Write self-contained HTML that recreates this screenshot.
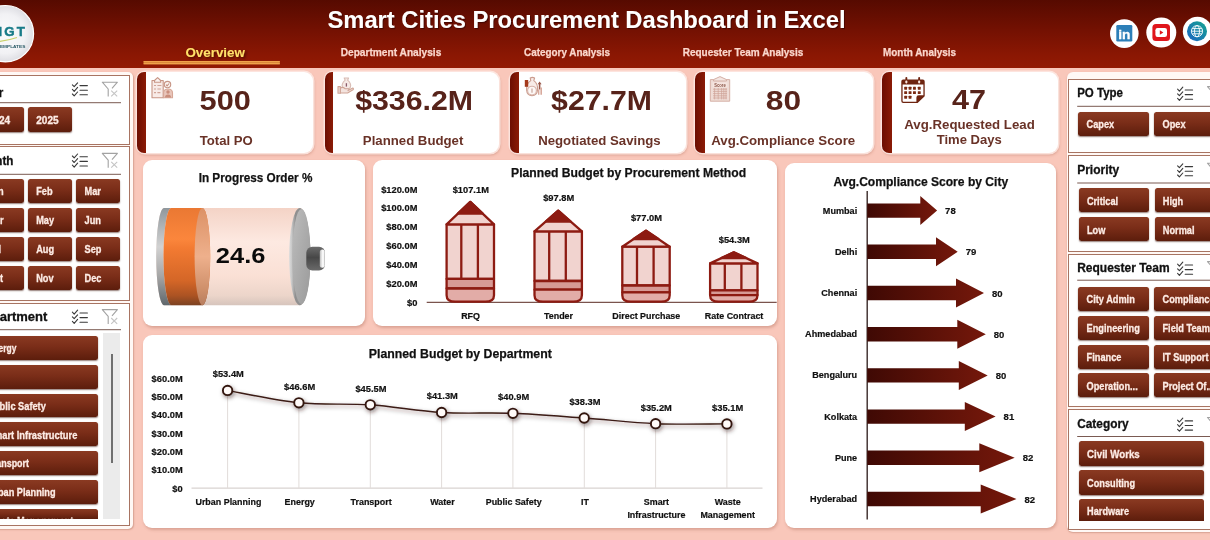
<!DOCTYPE html>
<html><head><meta charset="utf-8"><title>Smart Cities Procurement Dashboard in Excel</title>
<style>
html,body{margin:0;padding:0}
body{width:1210px;height:540px;overflow:hidden;background:#f9c7ba;position:relative;font-family:"Liberation Sans", sans-serif}
#stage{position:absolute;left:0;top:0;width:1210px;height:540px;overflow:hidden}
#stage>div{position:absolute}
svg{position:absolute;left:0;top:0;font-family:"Liberation Sans", sans-serif}
</style></head><body><div id="stage">
<div style="left:0.0px;top:0.0px;width:1210.0px;height:67.5px;background:linear-gradient(#560a00 0%,#741102 45%,#8a1703 80%,#931a03 100%);"></div>
<div style="left:-10.0px;top:72.2px;width:142.9px;height:457.2px;background:#fff8f5;border-radius:5px;box-shadow:.5px 1px 1.5px rgba(150,90,70,.35);"></div>
<div style="left:1067.4px;top:72.4px;width:162.6px;height:459.6px;background:#fff8f5;border-radius:6px;box-shadow:.5px 1px 1.5px rgba(150,90,70,.35);"></div>
<div style="left:-30.0px;top:75.0px;width:159.8px;height:69.6px;background:#fff;border:1px solid #a87462;box-sizing:border-box;"></div>
<div style="left:-20.5px;top:107.2px;width:44.0px;height:24.5px;background:linear-gradient(#8a3a22 0%,#7a2d18 45%,#5c1d0c 100%);border-radius:2.5px;box-shadow:0 1px 1.5px rgba(60,20,10,.55);"></div>
<div style="left:27.9px;top:107.2px;width:44.0px;height:24.5px;background:linear-gradient(#8a3a22 0%,#7a2d18 45%,#5c1d0c 100%);border-radius:2.5px;box-shadow:0 1px 1.5px rgba(60,20,10,.55);"></div>
<div style="left:-30.0px;top:146.4px;width:159.8px;height:154.2px;background:#fff;border:1px solid #a87462;box-sizing:border-box;"></div>
<div style="left:-20.5px;top:178.9px;width:44.0px;height:24.0px;background:linear-gradient(#8a3a22 0%,#7a2d18 45%,#5c1d0c 100%);border-radius:2.5px;box-shadow:0 1px 1.5px rgba(60,20,10,.55);"></div>
<div style="left:27.9px;top:178.9px;width:44.0px;height:24.0px;background:linear-gradient(#8a3a22 0%,#7a2d18 45%,#5c1d0c 100%);border-radius:2.5px;box-shadow:0 1px 1.5px rgba(60,20,10,.55);"></div>
<div style="left:76.2px;top:178.9px;width:44.0px;height:24.0px;background:linear-gradient(#8a3a22 0%,#7a2d18 45%,#5c1d0c 100%);border-radius:2.5px;box-shadow:0 1px 1.5px rgba(60,20,10,.55);"></div>
<div style="left:-20.5px;top:207.9px;width:44.0px;height:24.0px;background:linear-gradient(#8a3a22 0%,#7a2d18 45%,#5c1d0c 100%);border-radius:2.5px;box-shadow:0 1px 1.5px rgba(60,20,10,.55);"></div>
<div style="left:27.9px;top:207.9px;width:44.0px;height:24.0px;background:linear-gradient(#8a3a22 0%,#7a2d18 45%,#5c1d0c 100%);border-radius:2.5px;box-shadow:0 1px 1.5px rgba(60,20,10,.55);"></div>
<div style="left:76.2px;top:207.9px;width:44.0px;height:24.0px;background:linear-gradient(#8a3a22 0%,#7a2d18 45%,#5c1d0c 100%);border-radius:2.5px;box-shadow:0 1px 1.5px rgba(60,20,10,.55);"></div>
<div style="left:-20.5px;top:236.9px;width:44.0px;height:24.0px;background:linear-gradient(#8a3a22 0%,#7a2d18 45%,#5c1d0c 100%);border-radius:2.5px;box-shadow:0 1px 1.5px rgba(60,20,10,.55);"></div>
<div style="left:27.9px;top:236.9px;width:44.0px;height:24.0px;background:linear-gradient(#8a3a22 0%,#7a2d18 45%,#5c1d0c 100%);border-radius:2.5px;box-shadow:0 1px 1.5px rgba(60,20,10,.55);"></div>
<div style="left:76.2px;top:236.9px;width:44.0px;height:24.0px;background:linear-gradient(#8a3a22 0%,#7a2d18 45%,#5c1d0c 100%);border-radius:2.5px;box-shadow:0 1px 1.5px rgba(60,20,10,.55);"></div>
<div style="left:-20.5px;top:265.9px;width:44.0px;height:24.0px;background:linear-gradient(#8a3a22 0%,#7a2d18 45%,#5c1d0c 100%);border-radius:2.5px;box-shadow:0 1px 1.5px rgba(60,20,10,.55);"></div>
<div style="left:27.9px;top:265.9px;width:44.0px;height:24.0px;background:linear-gradient(#8a3a22 0%,#7a2d18 45%,#5c1d0c 100%);border-radius:2.5px;box-shadow:0 1px 1.5px rgba(60,20,10,.55);"></div>
<div style="left:76.2px;top:265.9px;width:44.0px;height:24.0px;background:linear-gradient(#8a3a22 0%,#7a2d18 45%,#5c1d0c 100%);border-radius:2.5px;box-shadow:0 1px 1.5px rgba(60,20,10,.55);"></div>
<div style="left:-30.0px;top:302.6px;width:159.8px;height:223.8px;background:#fff;border:1px solid #a87462;box-sizing:border-box;"></div>
<div style="left:102.8px;top:333.0px;width:17.6px;height:185.7px;background:#ebebeb;"></div>
<div style="left:110.6px;top:353.7px;width:2.0px;height:109.3px;background:#6f6f6f;"></div>
<div style="left:-20.5px;top:336.0px;width:118.5px;height:23.8px;background:linear-gradient(#8a3a22 0%,#7a2d18 45%,#5c1d0c 100%);border-radius:2.5px;box-shadow:0 1px 1.5px rgba(60,20,10,.55);"></div>
<div style="left:-20.5px;top:364.8px;width:118.5px;height:23.8px;background:linear-gradient(#8a3a22 0%,#7a2d18 45%,#5c1d0c 100%);border-radius:2.5px;box-shadow:0 1px 1.5px rgba(60,20,10,.55);"></div>
<div style="left:-20.5px;top:393.6px;width:118.5px;height:23.8px;background:linear-gradient(#8a3a22 0%,#7a2d18 45%,#5c1d0c 100%);border-radius:2.5px;box-shadow:0 1px 1.5px rgba(60,20,10,.55);"></div>
<div style="left:-20.5px;top:422.4px;width:118.5px;height:23.8px;background:linear-gradient(#8a3a22 0%,#7a2d18 45%,#5c1d0c 100%);border-radius:2.5px;box-shadow:0 1px 1.5px rgba(60,20,10,.55);"></div>
<div style="left:-20.5px;top:451.2px;width:118.5px;height:23.8px;background:linear-gradient(#8a3a22 0%,#7a2d18 45%,#5c1d0c 100%);border-radius:2.5px;box-shadow:0 1px 1.5px rgba(60,20,10,.55);"></div>
<div style="left:-20.5px;top:480.0px;width:118.5px;height:23.8px;background:linear-gradient(#8a3a22 0%,#7a2d18 45%,#5c1d0c 100%);border-radius:2.5px;box-shadow:0 1px 1.5px rgba(60,20,10,.55);"></div>
<div style="left:-20.5px;top:508.8px;width:118.5px;height:9.9px;background:linear-gradient(#8a3a22 0%,#7a2d18 45%,#5c1d0c 100%);border-radius:2.5px 2.5px 0 0;"></div>
<div style="left:1068.3px;top:78.5px;width:171.7px;height:74.7px;background:#fff;border:1px solid #a87462;box-sizing:border-box;"></div>
<div style="left:1078.3px;top:112.2px;width:70.8px;height:24.1px;background:linear-gradient(#8a3a22 0%,#7a2d18 45%,#5c1d0c 100%);border-radius:2.5px;box-shadow:0 1px 1.5px rgba(60,20,10,.55);"></div>
<div style="left:1154.2px;top:112.2px;width:70.8px;height:24.1px;background:linear-gradient(#8a3a22 0%,#7a2d18 45%,#5c1d0c 100%);border-radius:2.5px;box-shadow:0 1px 1.5px rgba(60,20,10,.55);"></div>
<div style="left:1068.3px;top:155.2px;width:171.7px;height:97.0px;background:#fff;border:1px solid #a87462;box-sizing:border-box;"></div>
<div style="left:1078.6px;top:188.3px;width:70.8px;height:24.1px;background:linear-gradient(#8a3a22 0%,#7a2d18 45%,#5c1d0c 100%);border-radius:2.5px;box-shadow:0 1px 1.5px rgba(60,20,10,.55);"></div>
<div style="left:1154.5px;top:188.3px;width:70.8px;height:24.1px;background:linear-gradient(#8a3a22 0%,#7a2d18 45%,#5c1d0c 100%);border-radius:2.5px;box-shadow:0 1px 1.5px rgba(60,20,10,.55);"></div>
<div style="left:1078.6px;top:217.2px;width:70.8px;height:24.1px;background:linear-gradient(#8a3a22 0%,#7a2d18 45%,#5c1d0c 100%);border-radius:2.5px;box-shadow:0 1px 1.5px rgba(60,20,10,.55);"></div>
<div style="left:1154.5px;top:217.2px;width:70.8px;height:24.1px;background:linear-gradient(#8a3a22 0%,#7a2d18 45%,#5c1d0c 100%);border-radius:2.5px;box-shadow:0 1px 1.5px rgba(60,20,10,.55);"></div>
<div style="left:1068.3px;top:254.0px;width:171.7px;height:153.2px;background:#fff;border:1px solid #a87462;box-sizing:border-box;"></div>
<div style="left:1078.3px;top:286.7px;width:70.8px;height:24.0px;background:linear-gradient(#8a3a22 0%,#7a2d18 45%,#5c1d0c 100%);border-radius:2.5px;box-shadow:0 1px 1.5px rgba(60,20,10,.55);"></div>
<div style="left:1154.2px;top:286.7px;width:70.8px;height:24.0px;background:linear-gradient(#8a3a22 0%,#7a2d18 45%,#5c1d0c 100%);border-radius:2.5px;box-shadow:0 1px 1.5px rgba(60,20,10,.55);"></div>
<div style="left:1078.3px;top:315.6px;width:70.8px;height:24.0px;background:linear-gradient(#8a3a22 0%,#7a2d18 45%,#5c1d0c 100%);border-radius:2.5px;box-shadow:0 1px 1.5px rgba(60,20,10,.55);"></div>
<div style="left:1154.2px;top:315.6px;width:70.8px;height:24.0px;background:linear-gradient(#8a3a22 0%,#7a2d18 45%,#5c1d0c 100%);border-radius:2.5px;box-shadow:0 1px 1.5px rgba(60,20,10,.55);"></div>
<div style="left:1078.3px;top:344.5px;width:70.8px;height:24.0px;background:linear-gradient(#8a3a22 0%,#7a2d18 45%,#5c1d0c 100%);border-radius:2.5px;box-shadow:0 1px 1.5px rgba(60,20,10,.55);"></div>
<div style="left:1154.2px;top:344.5px;width:70.8px;height:24.0px;background:linear-gradient(#8a3a22 0%,#7a2d18 45%,#5c1d0c 100%);border-radius:2.5px;box-shadow:0 1px 1.5px rgba(60,20,10,.55);"></div>
<div style="left:1078.3px;top:373.4px;width:70.8px;height:24.0px;background:linear-gradient(#8a3a22 0%,#7a2d18 45%,#5c1d0c 100%);border-radius:2.5px;box-shadow:0 1px 1.5px rgba(60,20,10,.55);"></div>
<div style="left:1154.2px;top:373.4px;width:70.8px;height:24.0px;background:linear-gradient(#8a3a22 0%,#7a2d18 45%,#5c1d0c 100%);border-radius:2.5px;box-shadow:0 1px 1.5px rgba(60,20,10,.55);"></div>
<div style="left:1068.3px;top:409.4px;width:171.7px;height:120.6px;background:#fff;border:1px solid #a87462;box-sizing:border-box;"></div>
<div style="left:1078.8px;top:441.3px;width:125.5px;height:24.6px;background:linear-gradient(#8a3a22 0%,#7a2d18 45%,#5c1d0c 100%);border-radius:2.5px;box-shadow:0 1px 1.5px rgba(60,20,10,.55);"></div>
<div style="left:1078.8px;top:470.1px;width:125.5px;height:24.6px;background:linear-gradient(#8a3a22 0%,#7a2d18 45%,#5c1d0c 100%);border-radius:2.5px;box-shadow:0 1px 1.5px rgba(60,20,10,.55);"></div>
<div style="left:1078.8px;top:498.9px;width:125.5px;height:21.9px;background:linear-gradient(#8a3a22 0%,#7a2d18 45%,#5c1d0c 100%);border-radius:2.5px 2.5px 0 0;"></div>
<div style="left:136.8px;top:72.2px;width:176.6px;height:81.2px;background:#fff;border-radius:8px 9px 9px 8px;box-shadow:0 0 0 1.5px rgba(253,232,226,.9),1px 2px 3px rgba(150,70,50,.35);"></div>
<div style="left:136.8px;top:72.2px;width:9.4px;height:81.2px;background:linear-gradient(90deg,#6c0e02,#8b1b06);border-radius:7px 0 0 7px;"></div>
<div style="left:324.5px;top:72.2px;width:174.8px;height:81.2px;background:#fff;border-radius:8px 9px 9px 8px;box-shadow:0 0 0 1.5px rgba(253,232,226,.9),1px 2px 3px rgba(150,70,50,.35);"></div>
<div style="left:324.5px;top:72.2px;width:8.3px;height:81.2px;background:linear-gradient(90deg,#6c0e02,#8b1b06);border-radius:7px 0 0 7px;"></div>
<div style="left:509.8px;top:72.2px;width:175.8px;height:81.2px;background:#fff;border-radius:8px 9px 9px 8px;box-shadow:0 0 0 1.5px rgba(253,232,226,.9),1px 2px 3px rgba(150,70,50,.35);"></div>
<div style="left:509.8px;top:72.2px;width:9.0px;height:81.2px;background:linear-gradient(90deg,#6c0e02,#8b1b06);border-radius:7px 0 0 7px;"></div>
<div style="left:694.5px;top:72.2px;width:178.0px;height:81.2px;background:#fff;border-radius:8px 9px 9px 8px;box-shadow:0 0 0 1.5px rgba(253,232,226,.9),1px 2px 3px rgba(150,70,50,.35);"></div>
<div style="left:694.5px;top:72.2px;width:10.5px;height:81.2px;background:linear-gradient(90deg,#6c0e02,#8b1b06);border-radius:7px 0 0 7px;"></div>
<div style="left:881.5px;top:72.2px;width:176.1px;height:81.2px;background:#fff;border-radius:8px 9px 9px 8px;box-shadow:0 0 0 1.5px rgba(253,232,226,.9),1px 2px 3px rgba(150,70,50,.35);"></div>
<div style="left:881.5px;top:72.2px;width:10.3px;height:81.2px;background:linear-gradient(90deg,#6c0e02,#8b1b06);border-radius:7px 0 0 7px;"></div>
<div style="left:142.6px;top:159.8px;width:222.8px;height:166.1px;background:#fff;border-radius:9px;box-shadow:1px 2px 3px rgba(150,80,60,.30);"></div>
<div style="left:372.5px;top:160.0px;width:404.0px;height:166.3px;background:#fff;border-radius:9px;box-shadow:1px 2px 3px rgba(150,80,60,.30);"></div>
<div style="left:143.0px;top:334.7px;width:634.1px;height:193.6px;background:#fff;border-radius:9px;box-shadow:1px 2px 3px rgba(150,80,60,.30);"></div>
<div style="left:785.4px;top:163.4px;width:270.9px;height:364.2px;background:#fff;border-radius:9px;box-shadow:1px 2px 3px rgba(150,80,60,.30);"></div>
<svg width="1210" height="540" viewBox="0 0 1210 540">
<defs>
<clipPath id="clip518"><rect x="-40" y="0" width="200" height="518.7"/></clipPath><clipPath id="clip520"><rect x="1000" y="0" width="300" height="520.8"/></clipPath>
<filter id="tsh" x="-5%" y="-30%" width="110%" height="170%"><feDropShadow dx="1" dy="1.2" stdDeviation="0.7" flood-color="#2a0500" flood-opacity=".55"/></filter>
<filter id="tsh2" x="-10%" y="-30%" width="130%" height="190%"><feDropShadow dx="1.5" dy="1.5" stdDeviation="1.2" flood-color="#2a0500" flood-opacity=".65"/></filter>
<filter id="lsh" x="-5%" y="-30%" width="110%" height="180%"><feDropShadow dx="1.2" dy="2" stdDeviation="1.9" flood-color="#2a100a" flood-opacity=".5"/></filter>
<radialGradient id="logo" cx=".5" cy=".5" r=".5"><stop offset="0" stop-color="#fbfbfd"/><stop offset=".7" stop-color="#f1f1f4"/><stop offset="1" stop-color="#dedee3"/></radialGradient>
<linearGradient id="globe" x1="0" y1="1" x2="1" y2="0"><stop offset="0" stop-color="#1c63c4"/><stop offset="1" stop-color="#14a58f"/></linearGradient>
<linearGradient id="arr" x1="0" y1="0" x2="1" y2="0"><stop offset="0" stop-color="#3f0904"/><stop offset="1" stop-color="#75180b"/></linearGradient>
<linearGradient id="batBody" x1="0" y1="0" x2="0" y2="1"><stop offset="0" stop-color="#f4d3c6"/><stop offset=".35" stop-color="#fde9e1"/><stop offset=".7" stop-color="#fae0d5"/><stop offset=".9" stop-color="#ecd5ca"/><stop offset="1" stop-color="#d6c4bc"/></linearGradient>
<linearGradient id="batGray" x1="0" y1="0" x2="0" y2="1"><stop offset="0" stop-color="#8f979c"/><stop offset=".4" stop-color="#d2d2d2"/><stop offset=".7" stop-color="#a6a6a6"/><stop offset="1" stop-color="#5f676c"/></linearGradient>
<linearGradient id="batOr" x1="0" y1="0" x2="0" y2="1"><stop offset="0" stop-color="#ea7833"/><stop offset=".32" stop-color="#fb863c"/><stop offset=".42" stop-color="#f27a32"/><stop offset=".75" stop-color="#d46627"/><stop offset=".9" stop-color="#ac5323"/><stop offset="1" stop-color="#7c4222"/></linearGradient>
<linearGradient id="batOrEnd" x1="0" y1="0" x2="0" y2="1"><stop offset="0" stop-color="#dc9166"/><stop offset=".5" stop-color="#eeb08c"/><stop offset=".85" stop-color="#cd8e69"/><stop offset="1" stop-color="#b77d5e"/></linearGradient>
<linearGradient id="batCap" x1="0" y1="0" x2="1" y2="1"><stop offset="0" stop-color="#bdbdbd"/><stop offset=".5" stop-color="#ababab"/><stop offset="1" stop-color="#9a9a9a"/></linearGradient>
<linearGradient id="batRim" x1="0" y1="0" x2="1" y2="0"><stop offset="0" stop-color="#dcdcdc"/><stop offset=".12" stop-color="#c9c9c9"/><stop offset=".3" stop-color="#8f8f8f"/><stop offset="1" stop-color="#9a9a9a"/></linearGradient>
<linearGradient id="nub" x1="0" y1="0" x2="0" y2="1"><stop offset="0" stop-color="#6c6c6c"/><stop offset=".45" stop-color="#474747"/><stop offset="1" stop-color="#6a6a6a"/></linearGradient>
<linearGradient id="nubHi" x1="0" y1="0" x2="1" y2="0"><stop offset="0" stop-color="#bdbdbd"/><stop offset=".6" stop-color="#ffffff"/><stop offset="1" stop-color="#e8e8e8"/></linearGradient>
</defs>
<text x="586.5" y="27.8" font-size="23.2" text-anchor="middle" fill="#fff" font-weight="bold" textLength="518.0" lengthAdjust="spacingAndGlyphs" filter="url(#tsh)">Smart Cities Procurement Dashboard in Excel</text>
<text x="215.2" y="56.8" font-size="13.5" text-anchor="middle" fill="#ffe169" font-weight="bold" textLength="59.5" lengthAdjust="spacingAndGlyphs" filter="url(#tsh2)">Overview</text>
<rect x="143.6" y="61" width="136.2" height="3.3" fill="#c9702e"/><rect x="143.6" y="61" width="136.2" height="1.4" fill="#f0a24a"/><rect x="143.6" y="62.9" width="136.2" height="1.4" fill="#f0a24a"/>
<text x="391.0" y="56.2" font-size="10.8" text-anchor="middle" fill="#fbd7cc" font-weight="bold" textLength="100.7" lengthAdjust="spacingAndGlyphs" stroke="#fbd7cc" stroke-width=".25">Department Analysis</text>
<text x="567.0" y="56.2" font-size="10.8" text-anchor="middle" fill="#fbd7cc" font-weight="bold" textLength="86.0" lengthAdjust="spacingAndGlyphs" stroke="#fbd7cc" stroke-width=".25">Category Analysis</text>
<text x="743.0" y="56.2" font-size="10.8" text-anchor="middle" fill="#fbd7cc" font-weight="bold" textLength="120.5" lengthAdjust="spacingAndGlyphs" stroke="#fbd7cc" stroke-width=".25">Requester Team Analysis</text>
<text x="919.5" y="56.2" font-size="10.8" text-anchor="middle" fill="#fbd7cc" font-weight="bold" textLength="73.0" lengthAdjust="spacingAndGlyphs" stroke="#fbd7cc" stroke-width=".25">Month Analysis</text>
<circle cx="5.4" cy="33.7" r="28.2" fill="url(#logo)" stroke="#fff" stroke-width="1.2"/>
<text x="-7.6" y="36.3" font-size="13.3" text-anchor="start" fill="#187b88" font-weight="bold" letter-spacing="2.2" stroke="#187b88" stroke-width=".5">NGT</text>
<path d="M-10 42.2 Q6 41.5 17 37.6" stroke="#c9d06a" stroke-width="1.1" fill="none"/>
<text x="-20.0" y="48.2" font-size="3.4" text-anchor="start" fill="#2a5a66" font-weight="bold" textLength="45.3" lengthAdjust="spacingAndGlyphs">EXCEL TEMPLATES</text>
<g>
<circle cx="1124.3" cy="33.6" r="14.3" fill="#fff"/>
<rect x="1116.3" y="25" width="16" height="16.4" rx="1.2" fill="#2d7fb8"/>
<circle cx="1161.3" cy="32.6" r="15" fill="#fff"/>
<rect x="1152.4" y="23.9" width="17.6" height="17.2" rx="3.5" fill="#e0161c"/>
<rect x="1155.4" y="28" width="11.6" height="9" rx="2.2" fill="#fff"/>
<path d="M1159.8 30.3 L1163.4 32.5 L1159.8 34.7 Z" fill="#e0161c"/>
<circle cx="1197.5" cy="31.4" r="14.7" fill="#fff"/>
<circle cx="1197" cy="31.2" r="10" fill="url(#globe)"/>
<g fill="none" stroke="#fff" stroke-width="0.9"><circle cx="1197" cy="31.2" r="5.6"/><ellipse cx="1197" cy="31.2" rx="2.5" ry="5.6"/><path d="M1191.4 31.2 H1202.6 M1192.2 28.6 H1201.8 M1192.2 33.8 H1201.8"/></g>
</g>
<text x="1124.3" y="39.4" font-size="13.5" text-anchor="middle" fill="#fff" font-weight="bold" textLength="12.2" lengthAdjust="spacingAndGlyphs" stroke="#fff" stroke-width="0.3">in</text>
<text x="3.2" y="97.0" font-size="12.5" text-anchor="end" fill="#111" font-weight="bold" textLength="24.6" lengthAdjust="spacingAndGlyphs" stroke="#111" stroke-width="0.3">Year</text>
<rect x="-20" y="102.2" width="141" height="1" fill="#7a5a52"/>
<g transform="translate(71.8,82.2)" fill="none" stroke="#3a3a3a" stroke-width="1.1" stroke-linecap="round" stroke-linejoin="round"><path d="M0.6 2.6 l1.8 1.9 l3.4 -3.9"/><path d="M8.2 3.4 H15.6"/><path d="M0.6 7.2 l1.8 1.9 l3.4 -3.9"/><path d="M8.2 8.0 H15.6"/><path d="M0.6 11.8 l1.8 1.9 l3.4 -3.9"/><path d="M8.2 12.6 H15.6"/></g><g transform="translate(101.8,81.6)" fill="none" stroke="#a2a2a2" stroke-width="1.1" stroke-linejoin="round"><path d="M6.4 15 V7.4 L0.5 0.6 H15.6 L10.2 6.8"/><path d="M9.4 9 l6 5.8 M15.4 9 l-6 5.8" stroke="#c4c4c4"/></g>
<text x="-12.2" y="123.7" font-size="10" text-anchor="start" fill="#fdebe4" font-weight="bold" textLength="22.4" lengthAdjust="spacingAndGlyphs" stroke="#fdebe4" stroke-width="0.3">2024</text>
<text x="36.2" y="123.7" font-size="10" text-anchor="start" fill="#fdebe4" font-weight="bold" textLength="22.4" lengthAdjust="spacingAndGlyphs" stroke="#fdebe4" stroke-width="0.3">2025</text>
<text x="13.4" y="165.2" font-size="12.5" text-anchor="end" fill="#111" font-weight="bold" textLength="34.9" lengthAdjust="spacingAndGlyphs" stroke="#111" stroke-width="0.3">Month</text>
<rect x="-20" y="173.8" width="141" height="1" fill="#7a5a52"/>
<g transform="translate(71.8,153.4)" fill="none" stroke="#3a3a3a" stroke-width="1.1" stroke-linecap="round" stroke-linejoin="round"><path d="M0.6 2.6 l1.8 1.9 l3.4 -3.9"/><path d="M8.2 3.4 H15.6"/><path d="M0.6 7.2 l1.8 1.9 l3.4 -3.9"/><path d="M8.2 8.0 H15.6"/><path d="M0.6 11.8 l1.8 1.9 l3.4 -3.9"/><path d="M8.2 12.6 H15.6"/></g><g transform="translate(101.8,152.8)" fill="none" stroke="#a2a2a2" stroke-width="1.1" stroke-linejoin="round"><path d="M6.4 15 V7.4 L0.5 0.6 H15.6 L10.2 6.8"/><path d="M9.4 9 l6 5.8 M15.4 9 l-6 5.8" stroke="#c4c4c4"/></g>
<text x="-12.2" y="195.1" font-size="10" text-anchor="start" fill="#fdebe4" font-weight="bold" textLength="15.9" lengthAdjust="spacingAndGlyphs" stroke="#fdebe4" stroke-width="0.3">Jan</text>
<text x="36.2" y="195.1" font-size="10" text-anchor="start" fill="#fdebe4" font-weight="bold" textLength="16.4" lengthAdjust="spacingAndGlyphs" stroke="#fdebe4" stroke-width="0.3">Feb</text>
<text x="84.5" y="195.1" font-size="10" text-anchor="start" fill="#fdebe4" font-weight="bold" textLength="16.4" lengthAdjust="spacingAndGlyphs" stroke="#fdebe4" stroke-width="0.3">Mar</text>
<text x="-12.2" y="224.1" font-size="10" text-anchor="start" fill="#fdebe4" font-weight="bold" textLength="15.8" lengthAdjust="spacingAndGlyphs" stroke="#fdebe4" stroke-width="0.3">Apr</text>
<text x="36.2" y="224.1" font-size="10" text-anchor="start" fill="#fdebe4" font-weight="bold" textLength="17.9" lengthAdjust="spacingAndGlyphs" stroke="#fdebe4" stroke-width="0.3">May</text>
<text x="84.5" y="224.1" font-size="10" text-anchor="start" fill="#fdebe4" font-weight="bold" textLength="16.4" lengthAdjust="spacingAndGlyphs" stroke="#fdebe4" stroke-width="0.3">Jun</text>
<text x="-12.2" y="253.1" font-size="10" text-anchor="start" fill="#fdebe4" font-weight="bold" textLength="13.3" lengthAdjust="spacingAndGlyphs" stroke="#fdebe4" stroke-width="0.3">Jul</text>
<text x="36.2" y="253.1" font-size="10" text-anchor="start" fill="#fdebe4" font-weight="bold" textLength="17.9" lengthAdjust="spacingAndGlyphs" stroke="#fdebe4" stroke-width="0.3">Aug</text>
<text x="84.5" y="253.1" font-size="10" text-anchor="start" fill="#fdebe4" font-weight="bold" textLength="16.9" lengthAdjust="spacingAndGlyphs" stroke="#fdebe4" stroke-width="0.3">Sep</text>
<text x="-12.2" y="282.1" font-size="10" text-anchor="start" fill="#fdebe4" font-weight="bold" textLength="15.3" lengthAdjust="spacingAndGlyphs" stroke="#fdebe4" stroke-width="0.3">Oct</text>
<text x="36.2" y="282.1" font-size="10" text-anchor="start" fill="#fdebe4" font-weight="bold" textLength="17.4" lengthAdjust="spacingAndGlyphs" stroke="#fdebe4" stroke-width="0.3">Nov</text>
<text x="84.5" y="282.1" font-size="10" text-anchor="start" fill="#fdebe4" font-weight="bold" textLength="16.9" lengthAdjust="spacingAndGlyphs" stroke="#fdebe4" stroke-width="0.3">Dec</text>
<text x="47.3" y="321.2" font-size="12.5" text-anchor="end" fill="#111" font-weight="bold" textLength="72.2" lengthAdjust="spacingAndGlyphs" stroke="#111" stroke-width="0.3">Department</text>
<rect x="-20" y="329.2" width="141" height="1" fill="#7a5a52"/>
<g transform="translate(71.8,309.6)" fill="none" stroke="#3a3a3a" stroke-width="1.1" stroke-linecap="round" stroke-linejoin="round"><path d="M0.6 2.6 l1.8 1.9 l3.4 -3.9"/><path d="M8.2 3.4 H15.6"/><path d="M0.6 7.2 l1.8 1.9 l3.4 -3.9"/><path d="M8.2 8.0 H15.6"/><path d="M0.6 11.8 l1.8 1.9 l3.4 -3.9"/><path d="M8.2 12.6 H15.6"/></g><g transform="translate(101.8,309.0)" fill="none" stroke="#a2a2a2" stroke-width="1.1" stroke-linejoin="round"><path d="M6.4 15 V7.4 L0.5 0.6 H15.6 L10.2 6.8"/><path d="M9.4 9 l6 5.8 M15.4 9 l-6 5.8" stroke="#c4c4c4"/></g>
<text x="-12.2" y="352.1" font-size="10" text-anchor="start" fill="#fdebe4" font-weight="bold" textLength="28.6" lengthAdjust="spacingAndGlyphs" stroke="#fdebe4" stroke-width="0.3">Energy</text>
<text x="-12.2" y="380.9" font-size="10" text-anchor="start" fill="#fdebe4" font-weight="bold" textLength="8.2" lengthAdjust="spacingAndGlyphs" stroke="#fdebe4" stroke-width="0.3">IT</text>
<text x="-12.2" y="409.7" font-size="10" text-anchor="start" fill="#fdebe4" font-weight="bold" textLength="58.0" lengthAdjust="spacingAndGlyphs" stroke="#fdebe4" stroke-width="0.3">Public Safety</text>
<text x="-12.2" y="438.5" font-size="10" text-anchor="start" fill="#fdebe4" font-weight="bold" textLength="89.5" lengthAdjust="spacingAndGlyphs" stroke="#fdebe4" stroke-width="0.3">Smart Infrastructure</text>
<text x="-12.2" y="467.3" font-size="10" text-anchor="start" fill="#fdebe4" font-weight="bold" textLength="41.2" lengthAdjust="spacingAndGlyphs" stroke="#fdebe4" stroke-width="0.3">Transport</text>
<text x="-12.2" y="496.1" font-size="10" text-anchor="start" fill="#fdebe4" font-weight="bold" textLength="67.7" lengthAdjust="spacingAndGlyphs" stroke="#fdebe4" stroke-width="0.3">Urban Planning</text>
<text x="-12.2" y="524.9" font-size="10" text-anchor="start" fill="#fdebe4" font-weight="bold" textLength="85.5" lengthAdjust="spacingAndGlyphs" clip-path="url(#clip518)" stroke="#fdebe4" stroke-width="0.3">Waste Management</text>
<text x="1077.2" y="97.0" font-size="12.5" text-anchor="start" fill="#111" font-weight="bold" textLength="45.8" lengthAdjust="spacingAndGlyphs" stroke="#111" stroke-width="0.3">PO Type</text>
<rect x="1077.2" y="105.8" width="140" height="1" fill="#7a5a52"/>
<g transform="translate(1177.0,86.6)" fill="none" stroke="#3a3a3a" stroke-width="1.1" stroke-linecap="round" stroke-linejoin="round"><path d="M0.6 2.6 l1.8 1.9 l3.4 -3.9"/><path d="M8.2 3.4 H15.6"/><path d="M0.6 7.2 l1.8 1.9 l3.4 -3.9"/><path d="M8.2 8.0 H15.6"/><path d="M0.6 11.8 l1.8 1.9 l3.4 -3.9"/><path d="M8.2 12.6 H15.6"/></g><g transform="translate(1207.0,86.0)" fill="none" stroke="#a2a2a2" stroke-width="1.1" stroke-linejoin="round"><path d="M6.4 15 V7.4 L0.5 0.6 H15.6 L10.2 6.8"/><path d="M9.4 9 l6 5.8 M15.4 9 l-6 5.8" stroke="#c4c4c4"/></g>
<text x="1086.6" y="128.4" font-size="10" text-anchor="start" fill="#fdebe4" font-weight="bold" textLength="27.6" lengthAdjust="spacingAndGlyphs" stroke="#fdebe4" stroke-width="0.3">Capex</text>
<text x="1162.5" y="128.4" font-size="10" text-anchor="start" fill="#fdebe4" font-weight="bold" textLength="23.0" lengthAdjust="spacingAndGlyphs" stroke="#fdebe4" stroke-width="0.3">Opex</text>
<text x="1077.2" y="173.7" font-size="12.5" text-anchor="start" fill="#111" font-weight="bold" textLength="42.0" lengthAdjust="spacingAndGlyphs" stroke="#111" stroke-width="0.3">Priority</text>
<rect x="1077.2" y="182.5" width="140" height="1" fill="#7a5a52"/>
<g transform="translate(1177.0,163.2)" fill="none" stroke="#3a3a3a" stroke-width="1.1" stroke-linecap="round" stroke-linejoin="round"><path d="M0.6 2.6 l1.8 1.9 l3.4 -3.9"/><path d="M8.2 3.4 H15.6"/><path d="M0.6 7.2 l1.8 1.9 l3.4 -3.9"/><path d="M8.2 8.0 H15.6"/><path d="M0.6 11.8 l1.8 1.9 l3.4 -3.9"/><path d="M8.2 12.6 H15.6"/></g><g transform="translate(1207.0,162.6)" fill="none" stroke="#a2a2a2" stroke-width="1.1" stroke-linejoin="round"><path d="M6.4 15 V7.4 L0.5 0.6 H15.6 L10.2 6.8"/><path d="M9.4 9 l6 5.8 M15.4 9 l-6 5.8" stroke="#c4c4c4"/></g>
<text x="1086.9" y="204.6" font-size="10" text-anchor="start" fill="#fdebe4" font-weight="bold" textLength="31.2" lengthAdjust="spacingAndGlyphs" stroke="#fdebe4" stroke-width="0.3">Critical</text>
<text x="1162.8" y="204.6" font-size="10" text-anchor="start" fill="#fdebe4" font-weight="bold" textLength="20.4" lengthAdjust="spacingAndGlyphs" stroke="#fdebe4" stroke-width="0.3">High</text>
<text x="1086.9" y="233.5" font-size="10" text-anchor="start" fill="#fdebe4" font-weight="bold" textLength="18.4" lengthAdjust="spacingAndGlyphs" stroke="#fdebe4" stroke-width="0.3">Low</text>
<text x="1162.8" y="233.5" font-size="10" text-anchor="start" fill="#fdebe4" font-weight="bold" textLength="31.7" lengthAdjust="spacingAndGlyphs" stroke="#fdebe4" stroke-width="0.3">Normal</text>
<text x="1077.2" y="271.9" font-size="12.5" text-anchor="start" fill="#111" font-weight="bold" textLength="92.4" lengthAdjust="spacingAndGlyphs" stroke="#111" stroke-width="0.3">Requester Team</text>
<rect x="1077.2" y="279.7" width="140" height="1" fill="#7a5a52"/>
<g transform="translate(1177.0,261.6)" fill="none" stroke="#3a3a3a" stroke-width="1.1" stroke-linecap="round" stroke-linejoin="round"><path d="M0.6 2.6 l1.8 1.9 l3.4 -3.9"/><path d="M8.2 3.4 H15.6"/><path d="M0.6 7.2 l1.8 1.9 l3.4 -3.9"/><path d="M8.2 8.0 H15.6"/><path d="M0.6 11.8 l1.8 1.9 l3.4 -3.9"/><path d="M8.2 12.6 H15.6"/></g><g transform="translate(1207.0,261.0)" fill="none" stroke="#a2a2a2" stroke-width="1.1" stroke-linejoin="round"><path d="M6.4 15 V7.4 L0.5 0.6 H15.6 L10.2 6.8"/><path d="M9.4 9 l6 5.8 M15.4 9 l-6 5.8" stroke="#c4c4c4"/></g>
<text x="1086.6" y="302.9" font-size="10" text-anchor="start" fill="#fdebe4" font-weight="bold" textLength="48.2" lengthAdjust="spacingAndGlyphs" stroke="#fdebe4" stroke-width="0.3">City Admin</text>
<text x="1162.5" y="302.9" font-size="10" text-anchor="start" fill="#fdebe4" font-weight="bold" textLength="52.1" lengthAdjust="spacingAndGlyphs" stroke="#fdebe4" stroke-width="0.3">Compliance</text>
<text x="1086.6" y="331.8" font-size="10" text-anchor="start" fill="#fdebe4" font-weight="bold" textLength="53.2" lengthAdjust="spacingAndGlyphs" stroke="#fdebe4" stroke-width="0.3">Engineering</text>
<text x="1162.5" y="331.8" font-size="10" text-anchor="start" fill="#fdebe4" font-weight="bold" textLength="47.4" lengthAdjust="spacingAndGlyphs" stroke="#fdebe4" stroke-width="0.3">Field Team</text>
<text x="1086.6" y="360.7" font-size="10" text-anchor="start" fill="#fdebe4" font-weight="bold" textLength="34.8" lengthAdjust="spacingAndGlyphs" stroke="#fdebe4" stroke-width="0.3">Finance</text>
<text x="1162.5" y="360.7" font-size="10" text-anchor="start" fill="#fdebe4" font-weight="bold" textLength="46.0" lengthAdjust="spacingAndGlyphs" stroke="#fdebe4" stroke-width="0.3">IT Support</text>
<text x="1086.6" y="389.6" font-size="10" text-anchor="start" fill="#fdebe4" font-weight="bold" textLength="51.1" lengthAdjust="spacingAndGlyphs" stroke="#fdebe4" stroke-width="0.3">Operation...</text>
<text x="1162.5" y="389.6" font-size="10" text-anchor="start" fill="#fdebe4" font-weight="bold" textLength="51.6" lengthAdjust="spacingAndGlyphs" stroke="#fdebe4" stroke-width="0.3">Project Of...</text>
<text x="1077.2" y="428.2" font-size="12.5" text-anchor="start" fill="#111" font-weight="bold" textLength="51.5" lengthAdjust="spacingAndGlyphs" stroke="#111" stroke-width="0.3">Category</text>
<rect x="1077.2" y="436.0" width="140" height="1" fill="#7a5a52"/>
<g transform="translate(1177.0,417.5)" fill="none" stroke="#3a3a3a" stroke-width="1.1" stroke-linecap="round" stroke-linejoin="round"><path d="M0.6 2.6 l1.8 1.9 l3.4 -3.9"/><path d="M8.2 3.4 H15.6"/><path d="M0.6 7.2 l1.8 1.9 l3.4 -3.9"/><path d="M8.2 8.0 H15.6"/><path d="M0.6 11.8 l1.8 1.9 l3.4 -3.9"/><path d="M8.2 12.6 H15.6"/></g><g transform="translate(1207.0,416.9)" fill="none" stroke="#a2a2a2" stroke-width="1.1" stroke-linejoin="round"><path d="M6.4 15 V7.4 L0.5 0.6 H15.6 L10.2 6.8"/><path d="M9.4 9 l6 5.8 M15.4 9 l-6 5.8" stroke="#c4c4c4"/></g>
<text x="1087.1" y="457.8" font-size="10" text-anchor="start" fill="#fdebe4" font-weight="bold" textLength="52.6" lengthAdjust="spacingAndGlyphs" stroke="#fdebe4" stroke-width="0.3">Civil Works</text>
<text x="1087.1" y="486.6" font-size="10" text-anchor="start" fill="#fdebe4" font-weight="bold" textLength="48.0" lengthAdjust="spacingAndGlyphs" stroke="#fdebe4" stroke-width="0.3">Consulting</text>
<text x="1087.1" y="515.4" font-size="10" text-anchor="start" fill="#fdebe4" font-weight="bold" textLength="41.9" lengthAdjust="spacingAndGlyphs" clip-path="url(#clip520)" stroke="#fdebe4" stroke-width="0.3">Hardware</text>
<text x="225.2" y="109.9" font-size="28" text-anchor="middle" fill="#57231a" font-weight="bold" textLength="51.3" lengthAdjust="spacingAndGlyphs">500</text>
<text x="226.3" y="144.7" font-size="13" text-anchor="middle" fill="#693227" font-weight="bold" textLength="53.0" lengthAdjust="spacingAndGlyphs">Total PO</text>
<text x="414.1" y="109.9" font-size="28" text-anchor="middle" fill="#57231a" font-weight="bold" textLength="117.9" lengthAdjust="spacingAndGlyphs">$336.2M</text>
<text x="413.1" y="144.7" font-size="13" text-anchor="middle" fill="#693227" font-weight="bold" textLength="100.5" lengthAdjust="spacingAndGlyphs">Planned Budget</text>
<text x="601.5" y="109.9" font-size="28" text-anchor="middle" fill="#57231a" font-weight="bold" textLength="100.8" lengthAdjust="spacingAndGlyphs">$27.7M</text>
<text x="599.4" y="144.7" font-size="13" text-anchor="middle" fill="#693227" font-weight="bold" textLength="122.5" lengthAdjust="spacingAndGlyphs">Negotiated Savings</text>
<text x="783.5" y="109.9" font-size="28" text-anchor="middle" fill="#57231a" font-weight="bold" textLength="35.3" lengthAdjust="spacingAndGlyphs">80</text>
<text x="783.2" y="144.7" font-size="13" text-anchor="middle" fill="#693227" font-weight="bold" textLength="144.0" lengthAdjust="spacingAndGlyphs">Avg.Compliance Score</text>
<text x="969.0" y="109.3" font-size="28" text-anchor="middle" fill="#57231a" font-weight="bold" textLength="34.0" lengthAdjust="spacingAndGlyphs">47</text>
<text x="969.5" y="128.9" font-size="13" text-anchor="middle" fill="#693227" font-weight="bold" textLength="130.5" lengthAdjust="spacingAndGlyphs">Avg.Requested Lead</text>
<text x="969.2" y="144.1" font-size="13" text-anchor="middle" fill="#693227" font-weight="bold" textLength="65.0" lengthAdjust="spacingAndGlyphs">Time Days</text>
<text x="255.5" y="181.8" font-size="13" text-anchor="middle" fill="#111" font-weight="bold" textLength="113.7" lengthAdjust="spacingAndGlyphs" stroke="#111" stroke-width="0.25">In Progress Order %</text>
<g>
<!-- body -->
<path d="M164 207.9 H300 A10 48.65 0 0 1 300 305.2 H164 A7.8 48.65 0 0 1 164 207.9 Z" fill="url(#batBody)"/>
<!-- left gray cap -->
<path d="M164 207.9 A7.8 48.65 0 0 0 164 305.2 H171.3 A7.8 48.65 0 0 1 171.3 207.9 Z" fill="url(#batGray)"/>
<!-- orange -->
<path d="M171.3 207.9 H202.4 A7.8 48.65 0 0 1 202.4 305.2 H171.3 A7.8 48.65 0 0 1 171.3 207.9 Z" fill="url(#batOr)"/>
<ellipse cx="202.4" cy="256.55" rx="7.8" ry="48.65" fill="url(#batOrEnd)"/>
<!-- right cap -->
<ellipse cx="299.8" cy="256.55" rx="10.7" ry="48.65" fill="url(#batRim)"/>
<ellipse cx="301.4" cy="256.55" rx="9.1" ry="47.6" fill="url(#batCap)"/>
<!-- nub -->
<rect x="306.3" y="246.7" width="18.7" height="23.8" rx="6" fill="url(#nub)"/>
<rect x="319.8" y="249.4" width="5" height="18.4" rx="2.5" fill="url(#nubHi)"/>
</g>
<text x="240.6" y="262.8" font-size="22" text-anchor="middle" fill="#0a0a0a" font-weight="bold" textLength="49.5" lengthAdjust="spacingAndGlyphs">24.6</text>
<text x="628.6" y="177.4" font-size="13" text-anchor="middle" fill="#111" font-weight="bold" textLength="235.0" lengthAdjust="spacingAndGlyphs" stroke="#111" stroke-width="0.25">Planned Budget by Procurement Method</text>
<text x="417.4" y="305.7" font-size="9.5" text-anchor="end" fill="#111" font-weight="bold" textLength="10.4" lengthAdjust="spacingAndGlyphs" stroke="#111" stroke-width="0.2">$0</text>
<text x="417.4" y="286.8" font-size="9.5" text-anchor="end" fill="#111" font-weight="bold" textLength="31.1" lengthAdjust="spacingAndGlyphs" stroke="#111" stroke-width="0.2">$20.0M</text>
<text x="417.4" y="268.0" font-size="9.5" text-anchor="end" fill="#111" font-weight="bold" textLength="31.1" lengthAdjust="spacingAndGlyphs" stroke="#111" stroke-width="0.2">$40.0M</text>
<text x="417.4" y="249.1" font-size="9.5" text-anchor="end" fill="#111" font-weight="bold" textLength="31.1" lengthAdjust="spacingAndGlyphs" stroke="#111" stroke-width="0.2">$60.0M</text>
<text x="417.4" y="230.2" font-size="9.5" text-anchor="end" fill="#111" font-weight="bold" textLength="31.1" lengthAdjust="spacingAndGlyphs" stroke="#111" stroke-width="0.2">$80.0M</text>
<text x="417.4" y="211.3" font-size="9.5" text-anchor="end" fill="#111" font-weight="bold" textLength="36.2" lengthAdjust="spacingAndGlyphs" stroke="#111" stroke-width="0.2">$100.0M</text>
<text x="417.4" y="192.5" font-size="9.5" text-anchor="end" fill="#111" font-weight="bold" textLength="36.2" lengthAdjust="spacingAndGlyphs" stroke="#111" stroke-width="0.2">$120.0M</text>
<rect x="426.7" y="301.8" width="350" height="1" fill="#5a2a22"/>
<g stroke="#8d1b12" stroke-width="2.3" stroke-linejoin="round"><rect x="446.6" y="224.4" width="47.4" height="54.5" fill="#f1d3cf"/><path d="M461.3 224.4 V278.9 M477.9 224.4 V278.9" fill="none"/><rect x="446.6" y="278.9" width="47.4" height="9.6" fill="#d79a95"/><path d="M446.6 288.5 H494.0 V295.2 Q494.0 301.7 485.5 301.7 H455.1 Q446.6 301.7 446.6 295.2 Z" fill="#e2aca7"/><path d="M446.6 224.4 L470.3 201.9 L494.0 224.4 Z" fill="#f1d3cf"/><path d="M457.9 213.7 L470.3 201.9 L482.7 213.7 Z" fill="#8d1b12"/></g>
<text x="470.8" y="192.6" font-size="9.5" text-anchor="middle" fill="#111" font-weight="bold" textLength="36.2" lengthAdjust="spacingAndGlyphs" stroke="#111" stroke-width="0.2">$107.1M</text>
<text x="470.6" y="319.3" font-size="9.2" text-anchor="middle" fill="#111" font-weight="bold" textLength="18.8" lengthAdjust="spacingAndGlyphs" stroke="#111" stroke-width="0.2">RFQ</text>
<g stroke="#8d1b12" stroke-width="2.3" stroke-linejoin="round"><rect x="534.5" y="231.3" width="47.4" height="49.7" fill="#f1d3cf"/><path d="M549.2 231.3 V281.0 M565.8 231.3 V281.0" fill="none"/><rect x="534.5" y="281.0" width="47.4" height="8.7" fill="#d79a95"/><path d="M534.5 289.7 H581.9 V295.2 Q581.9 301.7 573.4 301.7 H543.0 Q534.5 301.7 534.5 295.2 Z" fill="#e2aca7"/><path d="M534.5 231.3 L558.2 210.7 L581.9 231.3 Z" fill="#f1d3cf"/><path d="M545.8 221.5 L558.2 210.7 L570.6 221.5 Z" fill="#8d1b12"/></g>
<text x="558.7" y="201.4" font-size="9.5" text-anchor="middle" fill="#111" font-weight="bold" textLength="31.1" lengthAdjust="spacingAndGlyphs" stroke="#111" stroke-width="0.2">$97.8M</text>
<text x="558.5" y="319.3" font-size="9.2" text-anchor="middle" fill="#111" font-weight="bold" textLength="29.1" lengthAdjust="spacingAndGlyphs" stroke="#111" stroke-width="0.2">Tender</text>
<g stroke="#8d1b12" stroke-width="2.3" stroke-linejoin="round"><rect x="622.3" y="246.7" width="47.4" height="38.8" fill="#f1d3cf"/><path d="M637.0 246.7 V285.5 M653.6 246.7 V285.5" fill="none"/><rect x="622.3" y="285.5" width="47.4" height="6.8" fill="#d79a95"/><path d="M622.3 292.3 H669.7 V295.2 Q669.7 301.7 661.2 301.7 H630.8 Q622.3 301.7 622.3 295.2 Z" fill="#e2aca7"/><path d="M622.3 246.7 L646.0 230.6 L669.7 246.7 Z" fill="#f1d3cf"/><path d="M633.6 239.0 L646.0 230.6 L658.4 239.0 Z" fill="#8d1b12"/></g>
<text x="646.5" y="221.3" font-size="9.5" text-anchor="middle" fill="#111" font-weight="bold" textLength="31.1" lengthAdjust="spacingAndGlyphs" stroke="#111" stroke-width="0.2">$77.0M</text>
<text x="646.3" y="319.3" font-size="9.2" text-anchor="middle" fill="#111" font-weight="bold" textLength="68.0" lengthAdjust="spacingAndGlyphs" stroke="#111" stroke-width="0.2">Direct Purchase</text>
<g stroke="#8d1b12" stroke-width="2.3" stroke-linejoin="round"><rect x="710.1" y="263.4" width="47.4" height="27.0" fill="#f1d3cf"/><path d="M724.8 263.4 V290.4 M741.4 263.4 V290.4" fill="none"/><rect x="710.1" y="290.4" width="47.4" height="4.7" fill="#d79a95"/><path d="M710.1 295.2 H757.5 V295.2 Q757.5 301.7 749.0 301.7 H718.6 Q710.1 301.7 710.1 295.2 Z" fill="#e2aca7"/><path d="M710.1 263.4 L733.8 252.3 L757.5 263.4 Z" fill="#f1d3cf"/><path d="M721.4 258.1 L733.8 252.3 L746.2 258.1 Z" fill="#8d1b12"/></g>
<text x="734.3" y="243.0" font-size="9.5" text-anchor="middle" fill="#111" font-weight="bold" textLength="31.1" lengthAdjust="spacingAndGlyphs" stroke="#111" stroke-width="0.2">$54.3M</text>
<text x="734.1" y="319.3" font-size="9.2" text-anchor="middle" fill="#111" font-weight="bold" textLength="58.5" lengthAdjust="spacingAndGlyphs" stroke="#111" stroke-width="0.2">Rate Contract</text>
<text x="460.3" y="358.2" font-size="13" text-anchor="middle" fill="#111" font-weight="bold" textLength="183.0" lengthAdjust="spacingAndGlyphs" stroke="#111" stroke-width="0.25">Planned Budget by Department</text>
<text x="182.7" y="491.5" font-size="9.5" text-anchor="end" fill="#111" font-weight="bold" textLength="10.4" lengthAdjust="spacingAndGlyphs" stroke="#111" stroke-width="0.2">$0</text>
<text x="182.7" y="473.2" font-size="9.5" text-anchor="end" fill="#111" font-weight="bold" textLength="31.1" lengthAdjust="spacingAndGlyphs" stroke="#111" stroke-width="0.2">$10.0M</text>
<text x="182.7" y="454.9" font-size="9.5" text-anchor="end" fill="#111" font-weight="bold" textLength="31.1" lengthAdjust="spacingAndGlyphs" stroke="#111" stroke-width="0.2">$20.0M</text>
<text x="182.7" y="436.6" font-size="9.5" text-anchor="end" fill="#111" font-weight="bold" textLength="31.1" lengthAdjust="spacingAndGlyphs" stroke="#111" stroke-width="0.2">$30.0M</text>
<text x="182.7" y="418.3" font-size="9.5" text-anchor="end" fill="#111" font-weight="bold" textLength="31.1" lengthAdjust="spacingAndGlyphs" stroke="#111" stroke-width="0.2">$40.0M</text>
<text x="182.7" y="400.0" font-size="9.5" text-anchor="end" fill="#111" font-weight="bold" textLength="31.1" lengthAdjust="spacingAndGlyphs" stroke="#111" stroke-width="0.2">$50.0M</text>
<text x="182.7" y="381.7" font-size="9.5" text-anchor="end" fill="#111" font-weight="bold" textLength="31.1" lengthAdjust="spacingAndGlyphs" stroke="#111" stroke-width="0.2">$60.0M</text>
<rect x="191.5" y="487.6" width="571" height="1" fill="#d0c8c6"/>
<rect x="227.1" y="390.4" width="1" height="97.7" fill="#e2dcda"/>
<rect x="298.4" y="402.8" width="1" height="85.3" fill="#e2dcda"/>
<rect x="369.8" y="404.8" width="1" height="83.3" fill="#e2dcda"/>
<rect x="441.1" y="412.5" width="1" height="75.6" fill="#e2dcda"/>
<rect x="512.4" y="413.3" width="1" height="74.8" fill="#e2dcda"/>
<rect x="583.8" y="418.0" width="1" height="70.1" fill="#e2dcda"/>
<rect x="655.1" y="423.7" width="1" height="64.4" fill="#e2dcda"/>
<rect x="726.4" y="423.9" width="1" height="64.2" fill="#e2dcda"/>
<g filter="url(#lsh)"><path d="M227.6 390.4 C239.5 392.5 275.2 400.4 298.9 402.8 C322.7 405.2 346.5 403.2 370.3 404.8 C394.0 406.5 417.8 411.1 441.6 412.5 C465.4 413.9 489.1 412.3 512.9 413.3 C536.7 414.2 560.5 416.3 584.2 418.0 C608.0 419.7 631.8 422.7 655.6 423.7 C679.4 424.7 715.0 423.8 726.9 423.9" fill="none" stroke="#3b1a14" stroke-width="1.4"/><circle cx="227.6" cy="390.4" r="4.7" fill="#fffaf8" stroke="#331510" stroke-width="1.9"/><circle cx="298.9" cy="402.8" r="4.7" fill="#fffaf8" stroke="#331510" stroke-width="1.9"/><circle cx="370.3" cy="404.8" r="4.7" fill="#fffaf8" stroke="#331510" stroke-width="1.9"/><circle cx="441.6" cy="412.5" r="4.7" fill="#fffaf8" stroke="#331510" stroke-width="1.9"/><circle cx="512.9" cy="413.3" r="4.7" fill="#fffaf8" stroke="#331510" stroke-width="1.9"/><circle cx="584.2" cy="418.0" r="4.7" fill="#fffaf8" stroke="#331510" stroke-width="1.9"/><circle cx="655.6" cy="423.7" r="4.7" fill="#fffaf8" stroke="#331510" stroke-width="1.9"/><circle cx="726.9" cy="423.9" r="4.7" fill="#fffaf8" stroke="#331510" stroke-width="1.9"/></g>
<text x="228.3" y="377.2" font-size="9.5" text-anchor="middle" fill="#111" font-weight="bold" textLength="31.1" lengthAdjust="spacingAndGlyphs" stroke="#111" stroke-width="0.2">$53.4M</text>
<text x="228.4" y="505.0" font-size="9.2" text-anchor="middle" fill="#111" font-weight="bold" textLength="65.9" lengthAdjust="spacingAndGlyphs" stroke="#111" stroke-width="0.2">Urban Planning</text>
<text x="299.6" y="389.6" font-size="9.5" text-anchor="middle" fill="#111" font-weight="bold" textLength="31.1" lengthAdjust="spacingAndGlyphs" stroke="#111" stroke-width="0.2">$46.6M</text>
<text x="299.7" y="505.0" font-size="9.2" text-anchor="middle" fill="#111" font-weight="bold" textLength="30.3" lengthAdjust="spacingAndGlyphs" stroke="#111" stroke-width="0.2">Energy</text>
<text x="371.0" y="391.6" font-size="9.5" text-anchor="middle" fill="#111" font-weight="bold" textLength="31.1" lengthAdjust="spacingAndGlyphs" stroke="#111" stroke-width="0.2">$45.5M</text>
<text x="371.1" y="505.0" font-size="9.2" text-anchor="middle" fill="#111" font-weight="bold" textLength="41.2" lengthAdjust="spacingAndGlyphs" stroke="#111" stroke-width="0.2">Transport</text>
<text x="442.3" y="399.3" font-size="9.5" text-anchor="middle" fill="#111" font-weight="bold" textLength="31.1" lengthAdjust="spacingAndGlyphs" stroke="#111" stroke-width="0.2">$41.3M</text>
<text x="442.4" y="505.0" font-size="9.2" text-anchor="middle" fill="#111" font-weight="bold" textLength="24.5" lengthAdjust="spacingAndGlyphs" stroke="#111" stroke-width="0.2">Water</text>
<text x="513.6" y="400.1" font-size="9.5" text-anchor="middle" fill="#111" font-weight="bold" textLength="31.1" lengthAdjust="spacingAndGlyphs" stroke="#111" stroke-width="0.2">$40.9M</text>
<text x="513.7" y="505.0" font-size="9.2" text-anchor="middle" fill="#111" font-weight="bold" textLength="56.0" lengthAdjust="spacingAndGlyphs" stroke="#111" stroke-width="0.2">Public Safety</text>
<text x="585.0" y="404.8" font-size="9.5" text-anchor="middle" fill="#111" font-weight="bold" textLength="31.1" lengthAdjust="spacingAndGlyphs" stroke="#111" stroke-width="0.2">$38.3M</text>
<text x="585.0" y="505.0" font-size="9.2" text-anchor="middle" fill="#111" font-weight="bold" textLength="7.9" lengthAdjust="spacingAndGlyphs" stroke="#111" stroke-width="0.2">IT</text>
<text x="656.3" y="410.5" font-size="9.5" text-anchor="middle" fill="#111" font-weight="bold" textLength="31.1" lengthAdjust="spacingAndGlyphs" stroke="#111" stroke-width="0.2">$35.2M</text>
<text x="656.4" y="505.0" font-size="9.2" text-anchor="middle" fill="#111" font-weight="bold" textLength="25.3" lengthAdjust="spacingAndGlyphs" stroke="#111" stroke-width="0.2">Smart</text>
<text x="656.4" y="517.6" font-size="9.2" text-anchor="middle" fill="#111" font-weight="bold" textLength="58.0" lengthAdjust="spacingAndGlyphs" stroke="#111" stroke-width="0.2">Infrastructure</text>
<text x="727.6" y="410.7" font-size="9.5" text-anchor="middle" fill="#111" font-weight="bold" textLength="31.1" lengthAdjust="spacingAndGlyphs" stroke="#111" stroke-width="0.2">$35.1M</text>
<text x="727.7" y="505.0" font-size="9.2" text-anchor="middle" fill="#111" font-weight="bold" textLength="26.0" lengthAdjust="spacingAndGlyphs" stroke="#111" stroke-width="0.2">Waste</text>
<text x="727.7" y="517.6" font-size="9.2" text-anchor="middle" fill="#111" font-weight="bold" textLength="54.5" lengthAdjust="spacingAndGlyphs" stroke="#111" stroke-width="0.2">Management</text>
<text x="920.8" y="186.1" font-size="13" text-anchor="middle" fill="#111" font-weight="bold" textLength="174.8" lengthAdjust="spacingAndGlyphs" stroke="#111" stroke-width="0.25">Avg.Compliance Score by City</text>
<rect x="866.5" y="191" width="1.4" height="328.5" fill="#3a2a28"/>
<path d="M867.2 203.4 H920.3 V196.1 L937.1 210.6 L920.3 225.1 V217.8 H867.2 Z" fill="url(#arr)"/>
<text x="857.2" y="213.6" font-size="9.2" text-anchor="end" fill="#111" font-weight="bold" textLength="34.4" lengthAdjust="spacingAndGlyphs" stroke="#111" stroke-width="0.2">Mumbai</text>
<text x="945.1" y="214.1" font-size="9.5" text-anchor="start" fill="#111" font-weight="bold" textLength="10.6" lengthAdjust="spacingAndGlyphs" stroke="#111" stroke-width="0.2">78</text>
<path d="M867.2 244.6 H936.0 V237.3 L957.7 251.8 L936.0 266.3 V259.0 H867.2 Z" fill="url(#arr)"/>
<text x="857.2" y="254.8" font-size="9.2" text-anchor="end" fill="#111" font-weight="bold" textLength="22.3" lengthAdjust="spacingAndGlyphs" stroke="#111" stroke-width="0.2">Delhi</text>
<text x="965.7" y="255.3" font-size="9.5" text-anchor="start" fill="#111" font-weight="bold" textLength="10.6" lengthAdjust="spacingAndGlyphs" stroke="#111" stroke-width="0.2">79</text>
<path d="M867.2 285.8 H956.0 V278.5 L984.0 293.0 L956.0 307.5 V300.2 H867.2 Z" fill="url(#arr)"/>
<text x="857.2" y="296.0" font-size="9.2" text-anchor="end" fill="#111" font-weight="bold" textLength="35.9" lengthAdjust="spacingAndGlyphs" stroke="#111" stroke-width="0.2">Chennai</text>
<text x="992.0" y="296.5" font-size="9.5" text-anchor="start" fill="#111" font-weight="bold" textLength="10.6" lengthAdjust="spacingAndGlyphs" stroke="#111" stroke-width="0.2">80</text>
<path d="M867.2 327.0 H957.3 V319.7 L985.8 334.2 L957.3 348.7 V341.4 H867.2 Z" fill="url(#arr)"/>
<text x="857.2" y="337.2" font-size="9.2" text-anchor="end" fill="#111" font-weight="bold" textLength="52.1" lengthAdjust="spacingAndGlyphs" stroke="#111" stroke-width="0.2">Ahmedabad</text>
<text x="993.8" y="337.7" font-size="9.5" text-anchor="start" fill="#111" font-weight="bold" textLength="10.6" lengthAdjust="spacingAndGlyphs" stroke="#111" stroke-width="0.2">80</text>
<path d="M867.2 368.2 H958.8 V360.9 L987.7 375.4 L958.8 389.9 V382.6 H867.2 Z" fill="url(#arr)"/>
<text x="857.2" y="378.4" font-size="9.2" text-anchor="end" fill="#111" font-weight="bold" textLength="45.0" lengthAdjust="spacingAndGlyphs" stroke="#111" stroke-width="0.2">Bengaluru</text>
<text x="995.7" y="378.9" font-size="9.5" text-anchor="start" fill="#111" font-weight="bold" textLength="10.6" lengthAdjust="spacingAndGlyphs" stroke="#111" stroke-width="0.2">80</text>
<path d="M867.2 409.4 H964.8 V402.1 L995.6 416.6 L964.8 431.1 V423.8 H867.2 Z" fill="url(#arr)"/>
<text x="857.2" y="419.6" font-size="9.2" text-anchor="end" fill="#111" font-weight="bold" textLength="32.9" lengthAdjust="spacingAndGlyphs" stroke="#111" stroke-width="0.2">Kolkata</text>
<text x="1003.6" y="420.1" font-size="9.5" text-anchor="start" fill="#111" font-weight="bold" textLength="10.6" lengthAdjust="spacingAndGlyphs" stroke="#111" stroke-width="0.2">81</text>
<path d="M867.2 450.6 H979.3 V443.3 L1014.7 457.8 L979.3 472.3 V465.0 H867.2 Z" fill="url(#arr)"/>
<text x="857.2" y="460.8" font-size="9.2" text-anchor="end" fill="#111" font-weight="bold" textLength="22.3" lengthAdjust="spacingAndGlyphs" stroke="#111" stroke-width="0.2">Pune</text>
<text x="1022.7" y="461.3" font-size="9.5" text-anchor="start" fill="#111" font-weight="bold" textLength="10.6" lengthAdjust="spacingAndGlyphs" stroke="#111" stroke-width="0.2">82</text>
<path d="M867.2 491.8 H980.7 V484.5 L1016.5 499.0 L980.7 513.5 V506.2 H867.2 Z" fill="url(#arr)"/>
<text x="857.2" y="502.0" font-size="9.2" text-anchor="end" fill="#111" font-weight="bold" textLength="47.1" lengthAdjust="spacingAndGlyphs" stroke="#111" stroke-width="0.2">Hyderabad</text>
<text x="1024.5" y="502.5" font-size="9.5" text-anchor="start" fill="#111" font-weight="bold" textLength="10.6" lengthAdjust="spacingAndGlyphs" stroke="#111" stroke-width="0.2">82</text>
<g fill="none" stroke="#c79585" stroke-width="1.1" stroke-linejoin="round">
<path d="M152 80.5 H163.2 V97.8 H152 Z" fill="#f8ebe7"/>
<path d="M154.5 80.5 L157.6 77.6 L160.7 80.5 V82.2 H154.5 Z" fill="#fbf3f0"/>
<path d="M154 85.5 h2 M157.4 85.5 h4 M154 89 h2 M157.4 89 h3.4 M154 92.6 h2 M157.4 92.6 h3" stroke="#d0a497"/>
<circle cx="167.5" cy="84.6" r="3.2" fill="#fbf3f0"/><path d="M166 84.6 l1.1 1.2 l2 -2.3" stroke="#c79382"/>
<path d="M163.6 97.8 V93 Q163.6 89 168 89 Q172.5 89 172.5 93 V97.8 Z" fill="#e9c6bb" stroke="#d6a797"/>
<circle cx="168" cy="92" r="1.7" fill="#c98e7c" stroke="none"/><path d="M165 97.4 Q165 94.4 168 94.4 Q171 94.4 171 97.4 Z" fill="#c98e7c" stroke="none"/>
</g>
<g fill="none" stroke="#cfa496" stroke-width="1.1" stroke-linejoin="round">
<path d="M344.2 78 H348.6 L347.6 80.2 Q351.6 83.5 350.4 87.2 Q349.6 89.2 346.4 89.2 Q343.2 89.2 342.4 87.2 Q341.2 83.5 345.2 80.2 Z" fill="#f6e9e5" stroke="#d9bdb5"/>
<rect x="338" y="86.6" width="2.4" height="6.6" fill="#eddcd6"/>
<path d="M340.4 88 Q343 86.6 345 88.6 L348.5 88.8 Q349.5 90 348 90.6 L352.8 88 Q354 88.6 353 89.8 L347.6 93 H340.4 Z" fill="#f3e3de"/>
<path d="M346.4 83.2 v3.4" stroke="#8a5a6a" stroke-width="1.3"/>
</g>
<g fill="none" stroke="#cb9d8f" stroke-width="1.1" stroke-linejoin="round">
<path d="M530.2 78 Q532.4 76.8 534.6 78 L533.8 80.6 Q538 83.6 537.6 90 Q537 95.6 532 95.6 Q527 95.6 526.6 90 Q526.2 83.6 530.8 80.6 Z" fill="#f8ece8"/>
<circle cx="532" cy="90.6" r="4.4" fill="#fdf8f6" stroke="#d6b3a9"/>
<path d="M532 88.4 v4.4" stroke="#c9a69c" stroke-width="1.2"/>
<rect x="524.8" y="80" width="3.4" height="6.8" fill="#a43a1c" stroke="none"/>
<path d="M539.6 81.6 l-2 2.6 h1.2 v5.2 h1.6 v-5.2 h1.2 Z" fill="#9a5a4c" stroke="none"/>
<path d="M538 89.4 h1.4 v5.4 h-1.4z M540.4 87.6 h1.6 v7.2 h-1.6z" fill="#d8a99c" stroke="none"/>
</g>
<g fill="none" stroke="#d5b0a6" stroke-width="1" stroke-linejoin="round">
<path d="M710.3 79.6 H729.7 V101.2 H710.3 Z" fill="#efdcd6"/>
<path d="M713.5 79.6 L720 76.6 L726.5 79.6 V81 H713.5 Z" fill="#f4e6e2"/>
<rect x="712.6" y="82.4" width="14.8" height="5" fill="#f6e5e0" stroke="none"/>
<path d="M713 89.2 H727 M713 91.4 H727 M713 93.6 H727 M713 95.8 H727 M713 98 H727 M714.6 88 V99.4 M718.2 88 V99.4 M721.6 88 V99.4 M723.8 88 V99.4 M726 88 V99.4" stroke="#cfa296" stroke-width=".7"/>
</g>
<text x="720.0" y="86.6" font-size="4.6" text-anchor="middle" fill="#8a5446" font-weight="bold" textLength="11.5" lengthAdjust="spacingAndGlyphs">Score</text>
<g fill="#6e2410" stroke="none"><path d="M903.2 79.6 H922.8 Q924.7 79.6 924.7 81.5 V96.2 L917.6 103 H903.2 Q901.3 103 901.3 101.1 V81.5 Q901.3 79.6 903.2 79.6 Z M902.6 84.6 V101 Q902.6 101.8 903.4 101.8 H916.4 V97.6 Q916.4 95.2 918.8 95.2 H923.4 V84.6 Z"/><rect x="905.4" y="77" width="1.9" height="4" rx=".9"/><rect x="918.2" y="77" width="1.9" height="4" rx=".9"/><rect x="905.3" y="80.6" width="2.1" height="2.8" rx=".8" fill="#fbe6de"/><rect x="918.1" y="80.6" width="2.1" height="2.8" rx=".8" fill="#fbe6de"/><rect x="904.2" y="86.8" width="2.9" height="2.9" rx=".4" fill="#7a2a12"/><rect x="908.6" y="86.8" width="2.9" height="2.9" rx=".4" fill="#7a2a12"/><rect x="913.0" y="86.8" width="2.9" height="2.9" rx=".4" fill="#7a2a12"/><rect x="917.8" y="86.8" width="2.9" height="2.9" rx=".4" fill="#7a2a12"/><rect x="904.2" y="91.2" width="2.9" height="2.9" rx=".4" fill="#7a2a12"/><rect x="908.6" y="91.2" width="2.9" height="2.9" rx=".4" fill="#7a2a12"/><rect x="913.0" y="91.2" width="2.9" height="2.9" rx=".4" fill="#7a2a12"/><rect x="917.8" y="91.2" width="2.9" height="2.9" rx=".4" fill="#7a2a12"/><rect x="904.2" y="95.8" width="2.9" height="2.9" rx=".4" fill="#7a2a12"/><rect x="908.6" y="95.8" width="2.9" height="2.9" rx=".4" fill="#7a2a12"/></g>
</svg>
</div></body></html>
